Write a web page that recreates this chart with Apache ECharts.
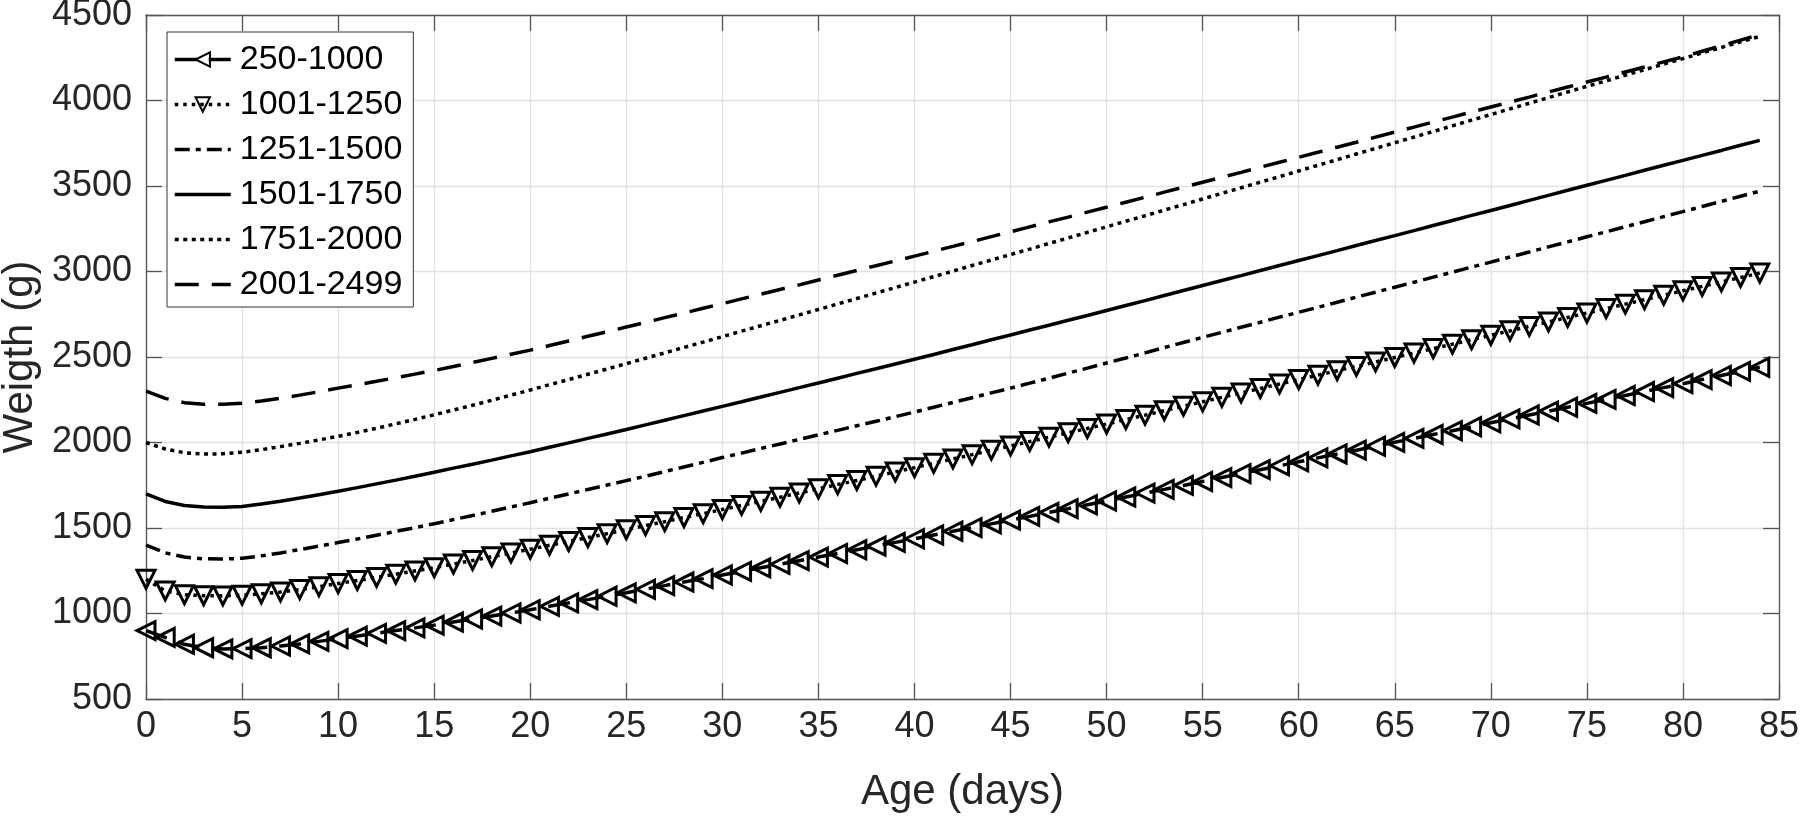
<!DOCTYPE html>
<html>
<head>
<meta charset="utf-8">
<script src="https://cdn.jsdelivr.net/npm/echarts@6/dist/echarts.min.js"></script>
<style>
html,body{margin:0;padding:0;background:#fff;}
#chart{width:1800px;height:816px;}
</style>
</head>
<body>
<div id="chart"></div>
<script>
// Age (days)
const ages = [0,1,2,3,4,5,6,7,8,9,10,11,12,13,14,15,16,17,18,19,20,21,22,23,24,25,26,27,28,29,30,31,32,33,34,35,36,37,38,39,40,41,42,43,44,45,46,47,48,49,50,51,52,53,54,55,56,57,58,59,60,61,62,63,64,65,66,67,68,69,70,71,72,73,74,75,76,77,78,79,80,81,82,83,84];

const seriesNames = ['250-1000','1001-1250','1251-1500','1501-1750','1751-2000','2001-2499'];

const w250_1000 = [900,860,820,800,793,795,800,810,822,837,853,868,884,900,916,932,950,968,985,1003,1022,1042,1062,1081,1101,1121,1142,1163,1184,1204,1225,1246,1267,1288,1309,1330,1351,1373,1394,1416,1437,1459,1481,1502,1524,1546,1568,1591,1613,1636,1658,1681,1704,1726,1749,1772,1795,1818,1841,1864,1887,1910,1933,1955,1978,2001,2024,2047,2069,2092,2115,2138,2161,2183,2206,2229,2252,2275,2298,2321,2344,2368,2392,2416,2440];

const w1001_1250 = [1200,1132,1110,1104,1103,1107,1115,1126,1140,1157,1175,1193,1211,1230,1249,1268,1289,1310,1332,1354,1376,1399,1421,1444,1467,1490,1514,1537,1561,1584,1608,1632,1656,1680,1705,1729,1754,1778,1803,1828,1853,1878,1904,1929,1955,1980,2006,2031,2057,2082,2108,2134,2160,2186,2212,2238,2264,2290,2316,2342,2368,2394,2420,2445,2471,2497,2523,2549,2575,2601,2627,2653,2679,2705,2731,2757,2783,2809,2835,2861,2887,2913,2939,2965,2991];

const w1251_1500 = [1400,1355,1330,1320,1318,1323,1337,1354,1374,1394,1415,1436,1458,1480,1502,1525,1549,1573,1598,1623,1648,1674,1699,1725,1751,1777,1803,1830,1857,1884,1912,1938,1965,1991,2018,2045,2071,2098,2124,2151,2178,2206,2234,2262,2290,2318,2347,2376,2406,2435,2465,2494,2524,2555,2585,2615,2644,2674,2703,2733,2762,2791,2820,2850,2879,2908,2937,2967,2996,3026,3055,3085,3114,3144,3173,3203,3232,3262,3291,3321,3350,3380,3410,3440,3470];

const w1501_1750 = [1700,1655,1632,1623,1621,1626,1640,1657,1675,1695,1715,1736,1758,1780,1803,1826,1850,1873,1897,1922,1946,1972,1998,2024,2050,2076,2103,2130,2157,2184,2211,2238,2266,2293,2321,2348,2376,2404,2431,2459,2487,2515,2544,2572,2601,2629,2658,2686,2715,2743,2772,2801,2830,2860,2889,2918,2947,2976,3006,3035,3064,3093,3122,3152,3181,3210,3239,3269,3298,3328,3357,3386,3416,3445,3475,3504,3533,3562,3592,3621,3650,3679,3708,3738,3767];

const w1751_2000 = [2000,1962,1940,1932,1934,1943,1958,1976,1995,2015,2036,2059,2083,2109,2135,2162,2190,2218,2247,2277,2307,2338,2368,2399,2430,2461,2493,2524,2556,2587,2619,2651,2683,2714,2746,2778,2810,2842,2874,2906,2938,2970,3002,3035,3067,3099,3131,3164,3196,3229,3261,3294,3326,3359,3391,3424,3457,3490,3522,3555,3588,3621,3654,3687,3720,3753,3786,3819,3852,3885,3918,3951,3984,4017,4050,4083,4115,4148,4180,4213,4245,4278,4310,4343,4375];

const w2001_2499 = [2300,2258,2233,2224,2224,2230,2243,2259,2277,2297,2318,2338,2358,2379,2400,2421,2444,2468,2492,2516,2540,2567,2594,2621,2648,2675,2702,2730,2757,2785,2812,2840,2867,2895,2922,2950,2978,3006,3034,3062,3090,3118,3147,3175,3204,3232,3261,3290,3318,3347,3376,3405,3434,3464,3493,3522,3551,3580,3610,3639,3668,3697,3727,3756,3786,3815,3844,3874,3903,3933,3962,3991,4020,4050,4079,4108,4137,4167,4196,4226,4255,4288,4320,4353,4385];

const FONT = "'Liberation Sans', Arial, Helvetica, sans-serif";
const TXT = '#262626';
const AX = '#555555';
const GRID = '#e2e2e2';

function pairs(vals){ return ages.map((a,i)=>[a, vals[i]]); }

const styles = [
  {vals:w250_1000, dash:[22,12], symbol:'triangle', rot:90},
  {vals:w1001_1250, dash:[3.5,5], symbol:'triangle', rot:180},
  {vals:w1251_1500, dash:[15,6,5,6], symbol:'none'},
  {vals:w1501_1750, dash:'solid', symbol:'none'},
  {vals:w1751_2000, dash:[4,4.5], symbol:'none'},
  {vals:w2001_2499, dash:[24,13], symbol:'none'}
];

const series = styles.map((s,i)=>{
  const o = {
    name: seriesNames[i],
    type: 'line',
    color: '#000',
    data: pairs(s.vals),
    lineStyle: {color:'#000', width:3.5, type: s.dash},
    z: 2 + i
  };
  if (s.symbol === 'none') {
    o.symbol = 'none';
    o.showSymbol = false;
    o.itemStyle = {color:'rgba(0,0,0,0)', borderWidth:0};
    o.legendIcon = 'rect';
  } else {
    o.symbol = s.symbol;
    o.symbolSize = [18,18];
    o.symbolRotate = s.rot;
    o.showSymbol = true;
    o.itemStyle = {color:'rgba(0,0,0,0)', borderColor:'#000', borderWidth:3};
  }
  return o;
});

const chart = echarts.init(document.getElementById('chart'), null, {renderer:'canvas'});
chart.setOption({
  animation: false,
  backgroundColor: '#fff',
  textStyle: {fontFamily: FONT, color: TXT},
  grid: {left:146, right:21, top:15, bottom:117, containLabel:false, outerBoundsMode:'none'},
  legend: {
    orient: 'vertical',
    left: 167, top: 32,
    data: seriesNames,
    itemWidth: 56, itemHeight: 18, itemGap: 0,
    padding: [5, 11, 0, 6],
    borderColor: '#333', borderWidth: 1,
    backgroundColor: '#fff',
    lineStyle: {width: 3.5},
    textStyle: {fontSize: 34, fontFamily: FONT, color: '#000', lineHeight: 45, padding:[0,0,0,4]},
    inactiveColor: '#000'
  },
  xAxis: [{
    type:'value', min:0, max:85, interval:5,
    name:'Age (days)', nameLocation:'middle', nameGap:72,
    nameTextStyle:{fontSize:42, fontFamily:FONT, color:TXT},
    axisLine:{show:true, onZero:false, lineStyle:{color:AX, width:1.3}},
    axisTick:{show:true, inside:true, length:16, lineStyle:{color:AX, width:1.3}},
    axisLabel:{fontSize:36, fontFamily:FONT, color:TXT, margin:10},
    splitLine:{show:true, lineStyle:{color:GRID, width:1.3}}
  },{
    type:'value', min:0, max:85, interval:5, position:'top',
    axisLine:{show:true, onZero:false, lineStyle:{color:AX, width:1.3}},
    axisTick:{show:true, inside:true, length:16, lineStyle:{color:AX, width:1.3}},
    axisLabel:{show:false}, splitLine:{show:false}
  }],
  yAxis: [{
    type:'value', min:500, max:4500, interval:500,
    name:'Weigth (g)', nameLocation:'middle', nameGap:95,
    nameTextStyle:{fontSize:42, fontFamily:FONT, color:TXT},
    axisLine:{show:true, onZero:false, lineStyle:{color:AX, width:1.3}},
    axisTick:{show:true, inside:true, length:16, lineStyle:{color:AX, width:1.3}},
    axisLabel:{fontSize:36, fontFamily:FONT, color:TXT, margin:14, formatter: v => String(v)},
    splitLine:{show:true, lineStyle:{color:GRID, width:1.3}}
  },{
    type:'value', min:500, max:4500, interval:500, position:'right',
    axisLine:{show:true, onZero:false, lineStyle:{color:AX, width:1.3}},
    axisTick:{show:true, inside:true, length:16, lineStyle:{color:AX, width:1.3}},
    axisLabel:{show:false}, splitLine:{show:false}
  }],
  series: series
});
</script>
</body>
</html>
